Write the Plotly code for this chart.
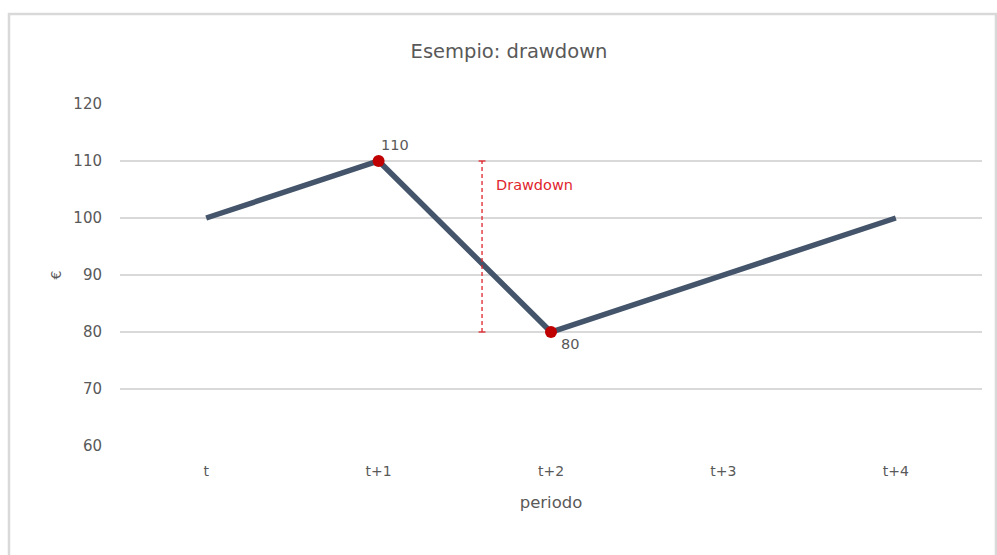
import plotly.graph_objects as go

# Series: portfolio value per period
periods = ["t", "t+1", "t+2", "t+3", "t+4"]
values = [100, 110, 80, 90, 100]

# Peak and trough highlighted on the line
peak_idx, trough_idx = 1, 2
# Horizontal position (category units) of the drawdown marker
dd_x = 1.6
dd_label_y = 105.8

LINE = "#44546A"
RED = "#C00000"
DD_RED = "#E0252E"
TXT = "#595959"
GRID = "#D9D9D9"
FONT = "DejaVu Sans"

fig = go.Figure()

fig.add_trace(go.Scatter(
    x=periods, y=values, mode="lines",
    line=dict(color=LINE, width=5.5),
    hoverinfo="skip", showlegend=False,
))

fig.add_trace(go.Scatter(
    x=[periods[peak_idx], periods[trough_idx]],
    y=[values[peak_idx], values[trough_idx]],
    mode="markers",
    marker=dict(color=RED, size=12),
    showlegend=False,
))

# Value labels next to the highlighted points
fig.add_annotation(x=peak_idx, y=values[peak_idx], text=str(values[peak_idx]),
                   showarrow=False, xanchor="left", yanchor="bottom",
                   xshift=0, yshift=6, font=dict(family=FONT, size=14.5, color=TXT))
fig.add_annotation(x=trough_idx, y=values[trough_idx], text=str(values[trough_idx]),
                   showarrow=False, xanchor="left", yanchor="top",
                   xshift=8, yshift=-2, font=dict(family=FONT, size=14.5, color=TXT))

# Drawdown span: dashed vertical line between peak and trough, with end caps
peak_v, trough_v = values[peak_idx], values[trough_idx]
fig.add_shape(type="line", xref="x", yref="y", x0=dd_x, x1=dd_x,
              y0=trough_v, y1=peak_v, line=dict(color=DD_RED, width=1.3, dash="4px,3px"))
for v in (peak_v, trough_v):
    fig.add_shape(type="line", xref="x", yref="y", x0=dd_x - 0.02, x1=dd_x + 0.02,
                  y0=v, y1=v, line=dict(color=DD_RED, width=1.3))
fig.add_annotation(x=dd_x, y=dd_label_y, text="Drawdown",
                   showarrow=False, xanchor="left", yanchor="middle", xshift=12,
                   font=dict(family=FONT, size=14.5, color=DD_RED))

# Outer chart frame
fig.add_shape(type="rect", xref="paper", yref="paper",
              x0=-0.1288, x1=1.0162, y0=-0.35, y1=1.263,
              line=dict(color="#D9D9D9", width=2.5), fillcolor="rgba(0,0,0,0)",
              layer="below")

fig.update_layout(
    width=997, height=555,
    margin=dict(l=120, r=15, t=104, b=109),
    paper_bgcolor="white", plot_bgcolor="white",
    title=dict(text="Esempio: drawdown", x=0.4513, xref="paper", xanchor="center",
               y=1 - 51 / 555, yanchor="middle",
               font=dict(family=FONT, size=19.5, color=TXT)),
    font=dict(family=FONT, color=TXT, size=14),
    xaxis=dict(
        type="category", categoryorder="array", categoryarray=periods,
        range=[-0.5, len(periods) - 0.5],
        showgrid=False, zeroline=False, showline=False,
        ticks="outside", ticklen=12, tickcolor="rgba(0,0,0,0)",
        tickfont=dict(family=FONT, size=14, color=TXT),
        title=dict(text="periodo", standoff=18,
                   font=dict(family=FONT, size=16.5, color=TXT)),
    ),
    yaxis=dict(
        range=[60, 120], dtick=10, tick0=60,
        showgrid=True, gridcolor=GRID, gridwidth=2,
        zeroline=False, showline=False,
        ticks="outside", ticklen=14, tickcolor="rgba(0,0,0,0)",
        tickfont=dict(family=FONT, size=15, color=TXT),
        title=dict(text="€", standoff=8,
                   font=dict(family=FONT, size=14, color=TXT)),
    ),
)

fig.write_html("out.html")
